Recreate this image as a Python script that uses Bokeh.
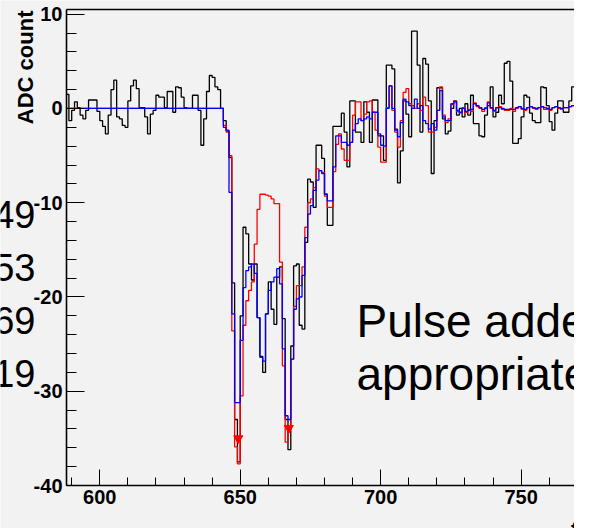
import math
import numpy as np
from bokeh.plotting import figure
from bokeh.models import (Range1d, LinearAxis, Label, SingleIntervalTicker,
                          FixedTicker, NumeralTickFormatter)
from bokeh.embed import file_html
from bokeh.resources import INLINE

# ---------------- data ----------------
first_bin = 588          # lower edge of first visible bin, bin width 1

adc_data = [
    1.5, -1.3, -0.2, 0.7, 0.1, -0.7, -1.1, -0.2, 0.9, 0.9,          # 588-597
    0.9, -0.3, -1.3, -1.9, -2.7, -0.7, 2.0, 3.0, -0.9, -1.1,        # 598-607
    -1.8, -2.0, 0.8, 2.4, 3.0, 2.1, 0.1, 0.1, -0.9, -2.7,           # 608-617
    -0.6, -0.2, 1.4, 1.2, 1.2, 0.1, 1.8, 1.8, -0.4, 2.3,            # 618-627
    2.2, 1.2, 0.1, 0.0, 0.0, 1.4, 1.4, -0.2, -3.9, -1.1,            # 628-637
    1.8, 3.5, 3.3, 2.3, 2.0, 0.0, -1.3, -2.4, -5.2, -18.5,          # 638-647
    -33.0, -37.5, -22.0, -12.6, -13.3, -16.5, -18.2, -16.5, -22.2, -26.3,  # 648-657
    -28.0, -21.8, -18.4, -21.3, -22.9, -17.9, -16.8, -22.3, -33.0, -36.2,  # 658-667
    -25.2, -16.7, -16.5, -23.0, -23.4, -14.2, -7.5, -7.8, -10.5, -3.9,     # 668-677
    -3.9, -5.3, -9.1, -12.4, -12.4, -1.9, -1.9, -1.9, -0.5, -2.5,   # 678-687
    -6.2, 0.8, 0.8, -2.5, -2.5, -3.6, 0.7, -0.4, -3.6, 0.9,         # 688-697
    0.9, -2.9, -2.9, -5.5, 4.6, 4.6, 4.2, -2.2, -7.9, -4.5,         # 698-707
    0.8, -0.6, -3.0, 8.2, 8.2, 4.6, -2.5, 5.3, 4.7, 0.8,            # 708-717
    -6.9, -1.3, 2.2, 2.2, -1.1, -2.7, -2.4, 0.0, 0.8, -0.7,         # 718-727
    0.0, -0.9, 0.5, -0.7, 1.4, -1.6, -1.6, -2.9, -3.0, -0.7,        # 728-737
    0.3, 2.3, -0.9, -0.4, 1.4, 0.5, 4.8, 5.0, 2.9, -3.7,            # 738-747
    -3.7, -3.2, -0.9, 1.4, 1.2, -0.5, -1.3, -1.5, -1.5, 2.3,        # 748-757
    2.2, 0.3, -1.4, -2.3, -0.5, 0.8, 0.8, -0.4, -0.4, 0.8,          # 758-767
    2.3,                                                             # 768
]

fit_red = [
    0.0, 0.0, 0.0, 0.0, 0.0, 0.0, 0.0, 0.0, 0.0, 0.0,               # 588-597
    0.0, 0.0, 0.0, 0.0, 0.0, 0.0, 0.0, 0.0, 0.0, 0.0,               # 598-607
    0.0, 0.0, 0.0, 0.0, 0.0, 0.0, 0.0, 0.0, 0.0, 0.0,               # 608-617
    0.0, 0.0, 0.0, 0.0, 0.0, 0.0, 0.0, 0.0, 0.0, 0.0,               # 618-627
    0.0, 0.0, 0.0, 0.0, 0.0, 0.0, 0.0, 0.0, 0.0, 0.0,               # 628-637
    0.0, 0.0, 0.0, 0.0, 0.0, 0.0, -1.8, -2.5, -5.0, -23.6,          # 638-647
    -35.9, -37.7, -30.5, -23.0, -20.4, -19.3, -18.4, -14.4, -10.7, -9.1,   # 648-657
    -9.1, -9.2, -9.3, -9.6, -10.1, -10.1, -16.3, -27.3, -35.4, -33.8,      # 658-667
    -26.6, -21.0, -18.8, -18.8, -16.8, -12.6, -10.0, -9.6, -8.4, -6.4,     # 668-677
    -6.6, -6.8, -9.3, -10.5, -10.5, -6.7, -3.8, -2.7, -4.3, -5.5,   # 678-687
    -5.5, -3.6, -0.7, 0.7, 0.7, -1.3, -0.6, 0.7, 0.8, -0.4,         # 688-697
    -2.3, -4.1, -5.7, -5.7, 0.1, 2.4, -0.2, -2.5, -4.1, -1.3,       # 698-707
    1.7, 2.1, 0.5, 0.3, 0.0, 0.5, -0.2, 1.2, 0.3, -2.5,             # 708-717
    -2.5, -2.0, -0.2, 2.3, -0.7, -1.5, -1.1, 0.4, 0.8, -0.3,        # 718-727
    -0.5, 0.1, -0.4, -0.1, -0.3, 0.6, 0.2, 0.0, -0.3, 0.1,          # 728-737
    0.7, 0.0, -0.3, 0.1, 0.2, -0.1, -0.2, -0.2, 0.0, -0.3,          # 738-747
    0.0, 0.2, -0.1, -0.2, 0.1, 0.2, 0.0, -0.1, 0.1, 0.2,            # 748-757
    -0.1, -0.1, -0.2, 0.1, 0.2, 0.0, -0.1, 0.1, 0.1, 0.2,           # 758-767
    0.3,                                                             # 768
]

fit_blue = [
    0.0, 0.0, 0.0, 0.0, 0.0, 0.0, 0.0, 0.0, 0.0, 0.0,               # 588-597
    0.0, 0.0, 0.0, 0.0, 0.0, 0.0, 0.0, 0.0, 0.0, 0.0,               # 598-607
    0.0, 0.0, 0.0, 0.0, 0.0, 0.0, 0.0, 0.0, 0.0, 0.0,               # 608-617
    0.0, 0.0, 0.0, 0.0, 0.0, 0.0, 0.0, 0.0, 0.0, 0.0,               # 618-627
    0.0, 0.0, 0.0, 0.0, 0.0, 0.0, 0.0, 0.0, 0.0, 0.0,               # 628-637
    0.0, 0.0, 0.0, 0.0, 0.0, 0.0, -2.0, -2.3, -8.9, -21.8,          # 638-647
    -31.2, -31.2, -24.6, -19.0, -17.2, -16.8, -16.5, -17.5, -22.2, -26.4,  # 648-657
    -26.8, -21.8, -19.3, -18.4, -17.9, -17.0, -18.6, -25.5, -32.6, -33.0,  # 658-667
    -26.6, -21.3, -20.2, -20.0, -17.7, -13.7, -11.2, -10.3, -8.7, -7.6,    # 668-677
    -6.6, -6.9, -9.1, -9.8, -9.8, -6.2, -2.9, -2.9, -3.6, -3.6,     # 678-687
    -3.9, -3.6, -2.3, -1.6, -1.1, -1.3, -1.1, -0.9, -1.1, -0.4,     # 688-697
    -0.4, -2.7, -3.9, -4.0, 0.0, 2.4, 0.0, -2.3, -3.0, -1.5,        # 698-707
    1.0, 0.7, 0.3, 0.0, 1.0, 0.0, 0.3, -1.3, -1.6, -2.2,            # 708-717
    -1.6, -2.3, -0.2, 1.9, -0.9, -1.3, -1.3, 0.5, 0.7, -0.2,        # 718-727
    -0.4, 0.0, -0.3, -0.2, -0.1, 0.5, 0.3, 0.1, -0.1, 0.0,          # 728-737
    0.6, 0.1, -0.2, 0.1, 0.1, 0.0, -0.1, -0.1, -0.1, -0.1,          # 738-747
    0.1, 0.2, 0.0, -0.1, 0.1, 0.2, 0.1, 0.0, 0.1, 0.2,              # 748-757
    0.1, 0.0, -0.1, 0.1, 0.2, 0.1, 0.0, 0.1, 0.1, 0.2,              # 758-767
    0.3,                                                             # 768
]

peak_x = [649.3, 667.3]
peak_y = [-35.0, -33.9]

side_numbers = ["49", "53", "69", "19"]
note_lines = ["Pulse added", "appropriate"]
y_title = "ADC count"
x_title = "time"

# ---------------- layout ----------------
# the histogram box (pad frame) occupies px 66..574 x 9..485 of the canvas;
# the Bokeh frame covers the whole canvas so texts outside the box survive.
W, H = 574, 528
BL, BT, BB, BR = 66, 9, 485, 574
x0, x1 = 588.15, 769.0          # x at box left / right
y0, y1 = -40.0, 10.5            # y at box bottom / top
BG = "#f2f2f2"
FONT = "Liberation Sans"


def sx(px):
    return x0 + (px - BL) * (x1 - x0) / (BR - BL)


def sy(py):
    return y1 - (py - BT) * (y1 - y0) / (BB - BT)


p = figure(width=W, height=H,
           x_range=Range1d(sx(0), sx(W)), y_range=Range1d(sy(H), sy(0)),
           output_backend="svg", toolbar_location=None,
           min_border_left=0, min_border_right=0, min_border_top=0,
           min_border_bottom=0, background_fill_color=BG,
           border_fill_color=BG, outline_line_color=None)
p.grid.visible = False

for ax in (p.xaxis[0], p.yaxis[0]):
    ax.axis_line_width = 1.6
    ax.axis_line_color = "black"
    ax.major_tick_out = 0
    ax.minor_tick_out = 0
    ax.major_tick_line_color = "black"
    ax.minor_tick_line_color = "black"
    ax.major_label_text_font = FONT
    ax.major_label_text_font_style = "bold"
    ax.major_label_text_color = "black"
    ax.formatter = NumeralTickFormatter(format="0")

p.xaxis.fixed_location = y0
p.xaxis.bounds = (x0, x1)
p.xaxis.ticker = SingleIntervalTicker(interval=50, num_minor_ticks=5)
p.xaxis.major_tick_in = 16
p.xaxis.minor_tick_in = 8
p.xaxis.major_label_text_font_size = "20px"
p.xaxis.major_label_standoff = 4

p.yaxis.fixed_location = x0
p.yaxis.bounds = (y0, y1)
p.yaxis.ticker = SingleIntervalTicker(interval=10, num_minor_ticks=5)
p.yaxis.major_tick_in = 18
p.yaxis.minor_tick_in = 10
p.yaxis.major_label_text_font_size = "20px"
p.yaxis.major_label_standoff = 4

top = LinearAxis(fixed_location=y1, bounds=(x0, x1), ticker=FixedTicker(ticks=[]),
                 axis_line_width=1.6, axis_line_color="black",
                 major_tick_line_color=None, minor_tick_line_color=None)
p.add_layout(top, "above")

edges = np.arange(first_bin, first_bin + len(adc_data) + 1)


def steps(vals):
    return list(vals) + [vals[-1]]


p.step(edges, steps(adc_data), mode="after", line_color="black", line_width=1.3)
p.step(edges, steps(fit_red), mode="after", line_color="#ff0000", line_width=1.3)
p.step(edges, steps(fit_blue), mode="after", line_color="#0000ff", line_width=1.3)
p.scatter(peak_x, peak_y, marker="inverted_triangle", size=9,
          fill_color="#ff0000", line_color="#ff0000")

# texts
p.add_layout(Label(x=sx(25), y=sy(10), text=y_title, angle=math.pi / 2,
                   text_align="right", text_baseline="alphabetic",
                   text_font=FONT, text_font_style="bold",
                   text_font_size="22px", text_color="black"))
p.add_layout(Label(x=sx(570.5), y=sy(528), text=x_title,
                   text_align="left", text_baseline="alphabetic",
                   text_font=FONT, text_font_style="bold",
                   text_font_size="20px", text_color="black"))

for i, t in enumerate(side_numbers):
    p.add_layout(Label(x=sx(35), y=sy(214 + 53 * i), text=t,
                       text_align="right", text_baseline="alphabetic",
                       text_font=FONT, text_font_size="38px",
                       text_color="black"))

for i, t in enumerate(note_lines):
    p.add_layout(Label(x=sx(356), y=sy(320 + 53 * i), text=t,
                       text_align="left", text_baseline="alphabetic",
                       text_font=FONT, text_font_size="46px",
                       text_color="black"))

open("out.html", "w").write(file_html(p, INLINE))
